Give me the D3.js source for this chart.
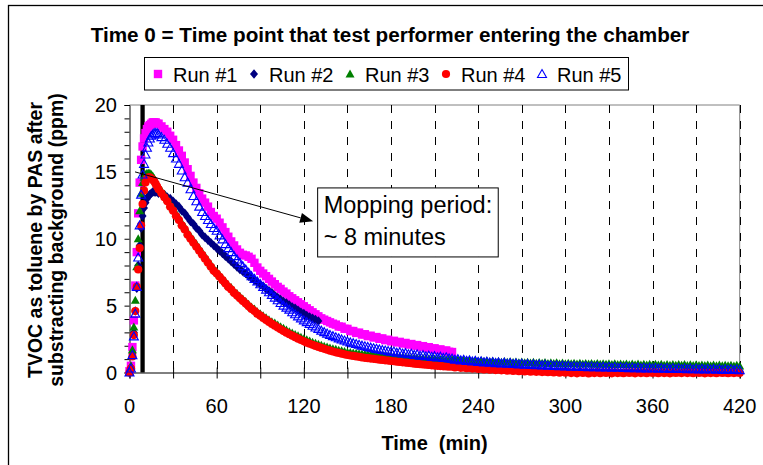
<!DOCTYPE html>
<html><head><meta charset="utf-8">
<script src="https://cdn.jsdelivr.net/npm/d3@7/dist/d3.min.js"></script>
<style>
html,body{margin:0;padding:0;background:#fff;}
svg{display:block;font-family:"Liberation Sans",Arial,sans-serif;}
</style></head>
<body><svg id="c" width="763" height="465"></svg>
<script>
// ---------------- data ----------------
const times = [0,1,2,3,4,5,6,7,8,9,10,11,12,13,14,15,16,17,18,19,20,
22,24,26,28,30,32,34,36,38,40, 42,44,46,48,50,52,54,56,58,60,
62,64,66,68,70,72,74,76,78,80, 82,84,86,88,90,92,94,96,98,100,
102,104,106,108,110,112,114,116,118,120, 122,124,126,128,130,132,134,136,138,140,
142,144,146,148,150,152,154,156,158,160, 162,164,166,168,170,172,174,176,178,180,
182,184,186,188,190,192,194,196,198,200, 202,204,206,208,210,212,214,216,218,220,
222,224,226,228,230,232,234,236,238,240, 242,244,246,248,250,252,254,256,258,260,
262,264,266,268,270,272,274,276,278,280, 282,284,286,288,290,292,294,296,298,300,
302,304,306,308,310,312,314,316,318,320, 322,324,326,328,330,332,334,336,338,340,
342,344,346,348,350,352,354,356,358,360, 362,364,366,368,370,372,374,376,378,380,
382,384,386,388,390,392,394,396,398,400, 402,404,406,408,410,412,414,416,418,420];

const run1 = [0.1,0.5,1.9,3.9,6.5,9.0,11.9,14.2,15.9,16.9,17.5,17.9,18.2,18.4,18.5,18.6,18.7,18.7,18.7,18.6,18.6,
18.4,18.2,18.0,17.7,17.4,17.0,16.6,16.2,15.7,15.2, 14.7,14.2,13.8,13.4,13.0,12.7,12.4,12.0,11.7,11.5,
11.2,10.85,10.5,10.15,9.8,9.5,9.2,8.95,8.8,8.75, 8.65,8.5,8.2,7.85,7.6,7.4,7.2,7.0,6.8,6.6,
6.4,6.25,6.05,5.9,5.7,5.55,5.4,5.25,5.1,4.95, 4.8,4.65,4.5,4.35,4.2,4.05,3.95,3.85,3.75,3.65,
3.58,3.44,3.42,3.27,3.26,3.1,3.1,2.96,2.98,2.84, 2.86,2.72,2.75,2.62,2.65,2.52,2.55,2.42,2.45,2.33,
2.37,2.25,2.29,2.17,2.21,2.09,2.13,2.01,2.05,1.93, 1.97,1.85,1.89,1.77,1.81,1.69,1.73,1.61,1.65,1.55,
1.53];

const run2 = [0.0,0.3,1.4,3.0,4.6,6.3,8.0,9.5,10.8,11.7,12.3,12.7,13.0,13.2,13.3,13.4,13.5,13.5,13.5,13.5,13.4,
13.4,13.3,13.1,13.0,12.8,12.6,12.4,12.1,11.9,11.6, 11.3,11.1,10.8,10.6,10.3,10.1,9.9,9.7,9.5,9.3,
9.1,8.9,8.7,8.5,8.3,8.1,7.9,7.7,7.55,7.4, 7.2,7.05,6.9,6.75,6.6,6.45,6.25,6.1,5.95,5.75,
5.6,5.45,5.3,5.2,5.05,4.9,4.8,4.65,4.5,4.4, 4.25,4.15,4.05,3.95,3.85];

const run3 = [0.0,0.5,1.7,3.4,5.4,7.9,10.0,12.1,13.4,14.2,14.6,14.8,14.9,14.9,14.9,14.8,14.7,14.5,14.3,14.1,13.9,
13.6,13.3,13.0,12.6,12.3,11.9,11.6,11.2,10.9,10.5, 10.2,9.9,9.6,9.3,9.0,8.7,8.4,8.1,7.8,7.55,
7.3,7.05,6.8,6.55,6.35,6.1,5.9,5.7,5.5,5.3, 5.1,4.9,4.75,4.55,4.4,4.25,4.1,3.95,3.8,3.7,
3.55,3.42,3.3,3.17,3.05,2.95,2.84,2.74,2.63,2.53, 2.44,2.35,2.27,2.19,2.11,2.04,1.97,1.9,1.84,1.78,
1.73,1.67,1.62,1.57,1.52,1.49,1.46,1.43,1.4,1.38, 1.36,1.34,1.32,1.3,1.28,1.27,1.25,1.24,1.22,1.21,
1.2,1.18,1.17,1.15,1.14,1.12,1.11,1.1,1.08,1.07, 1.06,1.04,1.03,1.02,1.01,1.0,0.98,0.97,0.96,0.95,
0.97,0.91,0.95,0.89,0.93,0.87,0.91,0.85,0.9,0.84, 0.88,0.82,0.86,0.8,0.85,0.79,0.83,0.77,0.82,0.76,
0.8,0.75,0.79,0.73,0.78,0.72,0.77,0.71,0.76,0.7, 0.75,0.69,0.74,0.68,0.73,0.67,0.72,0.66,0.71,0.66,
0.7,0.65,0.69,0.64,0.69,0.63,0.68,0.63,0.67,0.62, 0.67,0.61,0.66,0.61,0.65,0.6,0.65,0.6,0.64,0.59,
0.64,0.58,0.63,0.58,0.63,0.57,0.62,0.57,0.62,0.56, 0.61,0.56,0.61,0.55,0.6,0.55,0.6,0.54,0.59,0.54,
0.59,0.53,0.58,0.53,0.58,0.52,0.57,0.52,0.57,0.51, 0.56,0.51,0.56,0.5,0.55,0.5,0.55,0.49,0.54,0.49];

const run4 = [0.0,0.3,1.2,2.8,4.6,6.4,7.7,9.3,11.0,12.6,13.6,14.2,14.5,14.6,14.6,14.5,14.4,14.3,14.1,13.9,13.7,
13.4,13.1,12.8,12.4,12.1,11.7,11.4,11.0,10.7,10.3, 10.0,9.7,9.4,9.1,8.8,8.5,8.2,7.9,7.6,7.4,
7.15,6.9,6.65,6.4,6.2,5.95,5.75,5.55,5.35,5.15, 4.95,4.75,4.6,4.4,4.25,4.08,3.93,3.78,3.63,3.5,
3.36,3.23,3.1,2.98,2.86,2.75,2.64,2.53,2.43,2.33, 2.23,2.15,2.07,1.99,1.91,1.84,1.77,1.7,1.63,1.57,
1.51,1.46,1.41,1.36,1.31,1.27,1.24,1.2,1.17,1.13, 1.1,1.07,1.04,1.02,0.99,0.96,0.94,0.91,0.89,0.86,
0.84,0.81,0.79,0.76,0.74,0.71,0.69,0.66,0.64,0.62, 0.6,0.58,0.56,0.54,0.52,0.5,0.48,0.46,0.45,0.43,
0.44,0.38,0.41,0.35,0.38,0.32,0.35,0.29,0.32,0.26, 0.29,0.23,0.27,0.21,0.25,0.18,0.23,0.16,0.2,0.14,
0.18,0.12,0.16,0.1,0.14,0.08,0.12,0.06,0.1,0.05, 0.09,0.03,0.07,0.02,0.06,0.0,0.05,-0.01,0.04,-0.02,
0.03,-0.04,0.02,-0.06,0.03,-0.03,0.02,-0.07,0.01,-0.04, 0.03,-0.05,0.02,-0.03,0.01,-0.06,0.02,-0.04,0.0,-0.05,
0.02,-0.03,0.01,-0.06,0.02,-0.04,0.01,-0.05,0.02,-0.03, 0.01,-0.05,0.02,-0.04,0.0,-0.06,0.01,-0.03,0.0,-0.04,
0.02,-0.04,0.01,-0.05,0.02,-0.03,0.01,-0.06,0.0,-0.04, 0.01,-0.05,0.02,-0.03,0.0,-0.05,0.01,-0.04,0.0,-0.03];

const run5 = [0.0,0.3,1.3,2.7,4.4,6.4,8.6,11.0,13.3,14.8,15.6,16.3,16.8,17.2,17.5,17.7,17.8,17.9,17.9,17.9,17.8,
17.6,17.4,17.1,16.8,16.4,16.0,15.6,15.1,14.6,14.2, 13.7,13.2,12.8,12.4,12.0,11.7,11.4,11.1,10.8,10.6,
10.25,9.95,9.6,9.3,9.0,8.7,8.45,8.2,7.95,7.7, 7.45,7.2,7.0,6.8,6.6,6.4,6.2,6.0,5.8,5.6,
5.4,5.2,5.0,4.85,4.7,4.5,4.35,4.2,4.05,3.9, 3.77,3.63,3.5,3.37,3.25,3.13,3.02,2.91,2.81,2.72,
2.63,2.55,2.47,2.39,2.32,2.25,2.19,2.13,2.07,2.01, 1.96,1.91,1.86,1.81,1.77,1.72,1.68,1.64,1.6,1.56,
1.57,1.48,1.51,1.42,1.45,1.36,1.4,1.31,1.35,1.26, 1.3,1.21,1.26,1.17,1.22,1.13,1.18,1.09,1.14,1.05,
1.04,0.96,1.0,0.91,0.95,0.87,0.91,0.83,0.87,0.79, 0.84,0.76,0.81,0.73,0.78,0.7,0.75,0.67,0.73,0.65,
0.7,0.63,0.68,0.6,0.66,0.58,0.64,0.56,0.62,0.55, 0.6,0.53,0.58,0.51,0.56,0.49,0.54,0.47,0.53,0.46,
0.51,0.44,0.5,0.43,0.48,0.42,0.47,0.4,0.46,0.39, 0.45,0.38,0.44,0.37,0.43,0.36,0.42,0.35,0.41,0.34,
0.4,0.33,0.39,0.32,0.38,0.31,0.37,0.3,0.36,0.3, 0.35,0.29,0.34,0.28,0.34,0.27,0.33,0.26,0.32,0.26,
0.31,0.25,0.3,0.24,0.3,0.23,0.29,0.23,0.28,0.22, 0.27,0.21,0.27,0.2,0.26,0.2,0.25,0.19,0.24,0.18];

const seriesNames = ["Run #1","Run #2","Run #3","Run #4","Run #5"];
const seriesValues = [run1, run2, run3, run4, run5];
const seriesColors = ["#FF00FF","#000080","#008000","#FF0000","#0000FF"];
const seriesShapes = ["square","diamond","triangle","circle","opentriangle"];

const xTicks = [0,60,120,180,240,300,360,420];
const xGrid = [30,60,90,120,150,180,210,240,270,300,330,360,390,420];
const yTicks = [0,5,10,15,20];
const yMinor = [1,2,3,4,6,7,8,9,11,12,13,14,16,17,18,19];

const titleText = "Time 0 = Time point that test performer entering the chamber";
const xTitle = "Time  (min)";
const yTitle = ["TVOC as toluene by PAS after","substracting background (ppm)"];
const mopLine = 9;
const noteLines = ["Mopping period:","~ 8 minutes"];
const arrowFrom = [3.8, 15.0];
const arrowTo = [126.4, 11.3];
const noteBox = [129.5, 13.8, 253.8, 8.64]; // t0, v0, t1, v1

// ---------------- chart ----------------
const svg = d3.select("#c");
const x = d3.scaleLinear().domain([0,420]).range([129.5,739.7]);
const y = d3.scaleLinear().domain([0,20]).range([372.5,105]);

svg.append("rect").attr("x",8.5).attr("y",5.5).attr("width",800).attr("height",500)
  .attr("fill","#fff").attr("stroke","#000").attr("stroke-width",1.3);

svg.append("path").attr("d",`M${x(0)},${y(20)}H${x(420)}V${y(0)}`)
  .attr("fill","none").attr("stroke","#808080").attr("stroke-width",1);

svg.append("g").selectAll("line").data(xGrid).join("line")
  .attr("x1",d=>Math.round(x(d))+0.5).attr("x2",d=>Math.round(x(d))+0.5)
  .attr("y1",y(20)).attr("y2",y(0))
  .attr("stroke","#000").attr("stroke-width",1).attr("stroke-dasharray","8,8");

const gx = svg.append("g").attr("transform",`translate(0,${y(0)})`)
  .call(d3.axisBottom(x).tickValues(xGrid.concat([0])).tickSize(6).tickFormat(""));
gx.select(".domain").attr("stroke","#000");
gx.selectAll(".tick line").attr("y1",-5).attr("stroke","#000");

const gy = svg.append("g").attr("transform",`translate(${x(0)},0)`)
  .call(d3.axisLeft(y).tickValues(yTicks.concat(yMinor)).tickSize(5).tickFormat(""));
gy.select(".domain").attr("stroke","#000");

svg.append("g").selectAll("text").data(xTicks).join("text")
  .attr("x",d=>x(d)).attr("y",413).attr("text-anchor","middle")
  .attr("font-size",20).text(d=>d);
svg.append("g").selectAll("text").data(yTicks).join("text")
  .attr("x",117).attr("y",d=>y(d)+7.2).attr("text-anchor","end")
  .attr("font-size",20).text(d=>d);

svg.append("line").attr("x1",x(mopLine)).attr("x2",x(mopLine))
  .attr("y1",y(20)).attr("y2",y(0)).attr("stroke","#000").attr("stroke-width",4.3);

function shapePath(s){
  if(s==="square") return "M-4.2,-4.2h8.4v8.4h-8.4Z";
  if(s==="diamond") return "M0,-4.8L4,0L0,4.8L-4,0Z";
  return "M0,-4.5L4.5,3.5L-4.5,3.5Z";
}
function drawMarker(g, shape, color){
  if(shape==="circle"){
    return g.append("circle").attr("r",4.1).attr("fill",color);
  }
  const p = g.append("path").attr("d",shapePath(shape));
  if(shape==="opentriangle") p.attr("fill","none").attr("stroke",color).attr("stroke-width",1.1);
  else p.attr("fill",color);
  return p;
}
seriesValues.forEach((vals,i)=>{
  const g = svg.append("g");
  vals.forEach((v,k)=>{
    const m = g.append("g").attr("transform",`translate(${x(times[k])},${y(v)})`);
    drawMarker(m, seriesShapes[i], seriesColors[i]);
  });
});

const ax0=x(arrowFrom[0]), ay0=y(arrowFrom[1]), ax1=x(arrowTo[0]), ay1=y(arrowTo[1]);
const ang = Math.atan2(ay1-ay0, ax1-ax0);
const hl=13, hw=5;
const bx = ax1-hl*Math.cos(ang), by = ay1-hl*Math.sin(ang);
svg.append("line").attr("x1",ax0).attr("y1",ay0).attr("x2",bx).attr("y2",by)
  .attr("stroke","#000").attr("stroke-width",1);
svg.append("path").attr("d",`M${ax1},${ay1}L${bx+hw*Math.sin(ang)},${by-hw*Math.cos(ang)}L${bx-hw*Math.sin(ang)},${by+hw*Math.cos(ang)}Z`)
  .attr("fill","#000");

const nbx=x(noteBox[0]), nby=y(noteBox[1]), nbw=x(noteBox[2])-x(noteBox[0]), nbh=y(noteBox[3])-y(noteBox[1]);
svg.append("rect").attr("x",nbx).attr("y",nby).attr("width",nbw).attr("height",nbh)
  .attr("fill","#fff").attr("stroke","#000").attr("stroke-width",1);
svg.append("g").selectAll("text").data(noteLines).join("text")
  .attr("x",nbx+6).attr("y",(d,i)=>nby+25+i*32).attr("font-size",23.5).text(d=>d);

svg.append("text").attr("x",390).attr("y",41.5).attr("text-anchor","middle")
  .attr("font-size",20.7).attr("font-weight","bold").text(titleText);

svg.append("text").attr("x",434.6).attr("y",450).attr("text-anchor","middle")
  .attr("font-size",20).attr("font-weight","bold")
  .style("white-space","pre").text(xTitle);
svg.append("g").selectAll("text").data(yTitle).join("text")
  .attr("transform",(d,i)=>`translate(${42+i*21},240) rotate(-90)`)
  .attr("text-anchor","middle").attr("font-size",19.5).attr("font-weight","bold").text(d=>d);

const lg = svg.append("g");
lg.append("rect").attr("x",144.5).attr("y",57.5).attr("width",484).attr("height",32.5)
  .attr("fill","#fff").attr("stroke","#000").attr("stroke-width",1);
seriesNames.forEach((n,i)=>{
  const cx = 158 + i*96;
  const m = lg.append("g").attr("transform",`translate(${cx},74)`);
  drawMarker(m, seriesShapes[i], seriesColors[i]);
  lg.append("text").attr("x",cx+15).attr("y",81.5).attr("font-size",20).text(n);
});
</script>
</body></html>
